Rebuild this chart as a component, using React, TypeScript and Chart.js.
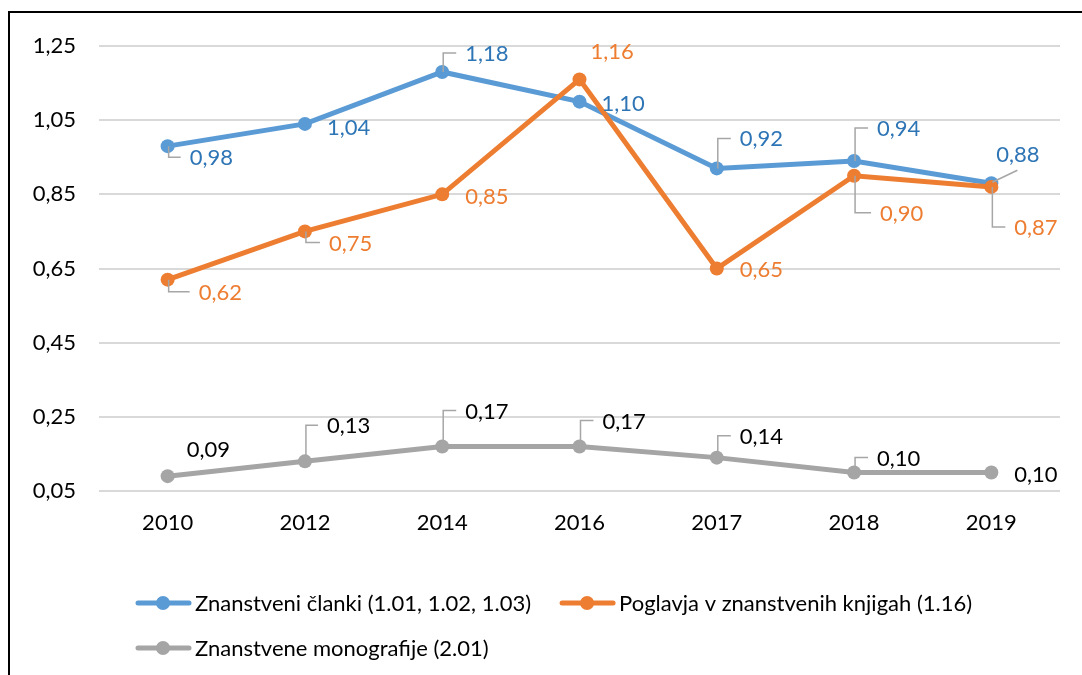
import React, { useEffect, useRef } from "react";
import { Chart, registerables } from "chart.js";

Chart.register(...registerables);

const years = ["2010", "2012", "2014", "2016", "2017", "2018", "2019"];
const clanki = [0.98, 1.04, 1.18, 1.1, 0.92, 0.94, 0.88];
const poglavja = [0.62, 0.75, 0.85, 1.16, 0.65, 0.9, 0.87];
const monografije = [0.09, 0.13, 0.17, 0.17, 0.14, 0.1, 0.1];
const seriesNames = [
  "Znanstveni članki (1.01, 1.02, 1.03)",
  "Poglavja v znanstvenih knjigah (1.16)",
  "Znanstvene monografije (2.01)",
];
const yMin = 0.05;
const yMax = 1.25;
const yStep = 0.2;

const BLUE = "#5B9BD5";
const ORANGE = "#ED7D31";
const GRAY = "#A5A5A5";
const FONT = "Lato, 'Open Sans', sans-serif";
const FSIZE = 22;

// label placement: [dx to label left, dy to label centre, leader type]
type Place = [number, number, string];
const labelPlacement: Place[][] = [
  [[22, 11, "L"], [22, 3, ""], [23, -19, "L"], [22, 1, ""], [23, -30, "L"], [23, -33, "L"], [5, -29, "D"]],
  [[31, 12, "L"], [24, 11, "L"], [23, 2, ""], [11, -28, ""], [23, 0, ""], [26, 37, "L"], [23, 40, "L"]],
  [[19, -27, ""], [22, -36, "L"], [23, -36, "L"], [23, -26, "L"], [23, -22, "L"], [23, -15, "L"], [23, 1, ""]],
];
const labelColors = ["#2E75B6", "#ED7D31", "#000000"];

const fmt = (v: number) => v.toFixed(2).replace(".", ",");

const labelPlugin = {
  id: "dataLabels",
  afterDatasetsDraw(chart: any) {
    const ctx = chart.ctx;
    ctx.save();
    ctx.font = `${FSIZE}px ${FONT}`;
    ctx.textBaseline = "middle";
    ctx.textAlign = "left";
    chart.data.datasets.forEach((ds: any, di: number) => {
      const meta = chart.getDatasetMeta(di);
      meta.data.forEach((pt: any, i: number) => {
        const [dx, dy, leader] = labelPlacement[di][i];
        const lx = pt.x + dx;
        const cy = pt.y + dy;
        ctx.strokeStyle = "#A6A6A6";
        ctx.lineWidth = 1.5;
        if (leader === "L") {
          ctx.beginPath();
          ctx.moveTo(pt.x + 1, pt.y);
          ctx.lineTo(pt.x + 1, cy);
          ctx.lineTo(lx - 9, cy);
          ctx.stroke();
        } else if (leader === "D") {
          ctx.beginPath();
          ctx.moveTo(pt.x + 1, pt.y - 1);
          ctx.lineTo(lx + 21, cy + 16);
          ctx.stroke();
        }
        ctx.fillStyle = labelColors[di];
        ctx.fillText(fmt(ds.data[i]), lx, cy + 1);
      });
    });
    ctx.restore();
  },
};

const legendPlugin = {
  id: "customLegend",
  afterDraw(chart: any) {
    const ctx = chart.ctx;
    const colors = [BLUE, ORANGE, GRAY];
    const rows = [
      [0, 1],
      [2],
    ];
    const rowY = [603, 648];
    ctx.save();
    ctx.font = `${FSIZE}px ${FONT}`;
    ctx.textBaseline = "middle";
    ctx.textAlign = "left";
    rows.forEach((row, r) => {
      let x = 136;
      row.forEach((si) => {
        const y = rowY[r];
        ctx.strokeStyle = colors[si];
        ctx.lineWidth = 5;
        ctx.lineCap = "round";
        ctx.beginPath();
        ctx.moveTo(x + 2, y);
        ctx.lineTo(x + 53, y);
        ctx.stroke();
        ctx.fillStyle = colors[si];
        ctx.beginPath();
        ctx.arc(x + 27, y, 7, 0, Math.PI * 2);
        ctx.fill();
        ctx.fillStyle = "#000";
        ctx.fillText(seriesNames[si], x + 59, y + 1);
        x += 59 + ctx.measureText(seriesNames[si]).width + 29;
      });
    });
    ctx.restore();
  },
};

export default function App() {
  const ref = useRef<HTMLCanvasElement | null>(null);
  useEffect(() => {
    if (!ref.current) return;
    const mk = (label: string, data: number[], color: string, order: number) => ({
      label,
      data,
      borderColor: color,
      backgroundColor: color,
      borderWidth: 5,
      pointRadius: 7,
      pointHoverRadius: 7,
      pointBorderWidth: 0,
      pointBackgroundColor: color,
      tension: 0,
      order,
    });
    const chart = new Chart(ref.current, {
      type: "line",
      data: {
        labels: years,
        datasets: [
          mk(seriesNames[0], clanki, BLUE, 2),
          mk(seriesNames[1], poglavja, ORANGE, 1),
          mk(seriesNames[2], monografije, GRAY, 3),
        ],
      },
      options: {
        animation: false,
        responsive: false,
        maintainAspectRatio: false,
        devicePixelRatio: 1,
        layout: { padding: { left: 0, right: 22, top: 46, bottom: 0 } },
        plugins: { legend: { display: false }, tooltip: { enabled: false } },
        scales: {
          x: {
            offset: true,
            grid: { display: false, drawTicks: false, offset: true },
            border: { display: false },
            ticks: { color: "#000", font: { family: FONT, size: FSIZE }, padding: 19 },
            afterFit: (s: any) => {
              s.height = 675 - 491;
            },
          },
          y: {
            min: yMin,
            max: yMax,
            grid: { color: "#D9D9D9", lineWidth: 2, drawTicks: false },
            border: { display: false },
            ticks: {
              stepSize: yStep,
              color: "#000",
              font: { family: FONT, size: FSIZE },
              padding: 23,
              callback: (v: any) => fmt(Number(v)),
            },
            afterFit: (s: any) => {
              s.width = 99;
            },
          },
        },
      },
      plugins: [labelPlugin, legendPlugin],
    });
    return () => chart.destroy();
  }, []);
  return (
    <div style={{ position: "fixed", left: 0, top: 0, width: 1082, height: 675, background: "#fff" }}>
      <canvas ref={ref} width={1082} height={675} style={{ position: "absolute", left: 0, top: 0 }} />
      <div
        style={{
          position: "absolute",
          left: 8,
          top: 11,
          width: 1100,
          height: 700,
          borderLeft: "2px solid #000",
          borderTop: "2px solid #000",
          pointerEvents: "none",
        }}
      />
    </div>
  );
}
